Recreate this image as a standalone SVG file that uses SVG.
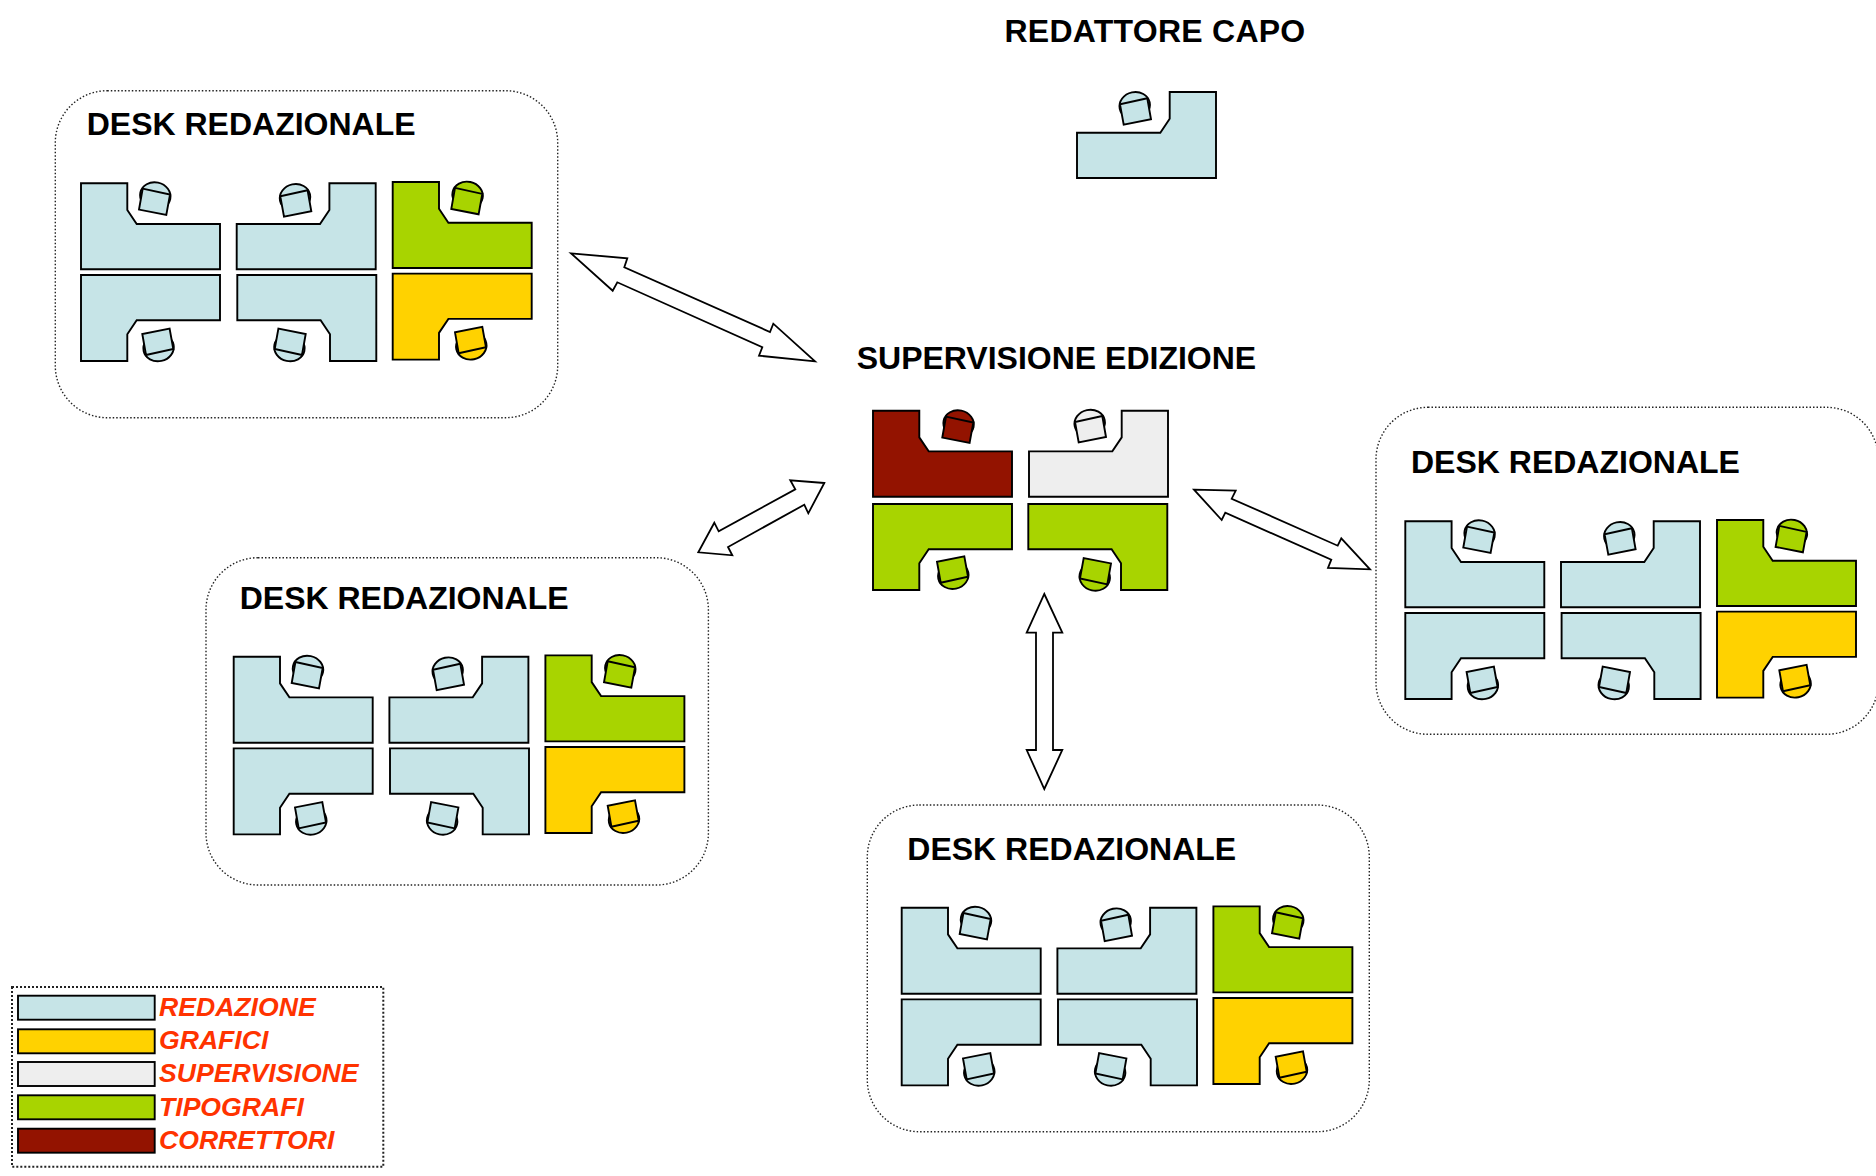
<svg xmlns="http://www.w3.org/2000/svg" xmlns:xlink="http://www.w3.org/1999/xlink" width="1876" height="1176" viewBox="0 0 1876 1176">
<style>
text{font-family:"Liberation Sans",Arial,sans-serif;font-weight:700}
.title{font-size:32px;fill:#000}
.leg{font-size:26.6px;font-style:italic;fill:#ff3300}
.frame{fill:#fff;stroke:#222;stroke-width:1.4;stroke-dasharray:1.5 2}
.d,.c{stroke:#000;stroke-width:1.9;stroke-linejoin:miter}
.blue{fill:#c6e4e7}.yellow{fill:#ffd200}.grey{fill:#eeeeee}.green{fill:#a8d400}.red{fill:#931300}
.arrow{fill:#fff;stroke:#000;stroke-width:1.8;stroke-linejoin:miter}
.sw{stroke:#000;stroke-width:1.9}
</style>
<defs>
<path id="desk" class="d" d="M0 0H46.3V26.7L55.7 40.7H139V86H0Z"/>
<g id="chair" class="c">
<ellipse cx="74.3" cy="12.5" rx="15.3" ry="13.4" transform="rotate(12 74.3 12.5)"/>
<path d="M61.7 5.3L89 11.3L85.3 31.7L58 26.3Z"/>
</g>
<g id="cluster">
<use xlink:href="#desk" href="#desk" class="blue"/>
<use xlink:href="#chair" href="#chair" class="blue"/>
<use xlink:href="#desk" href="#desk" class="blue" transform="translate(294.7 0) scale(-1 1)"/>
<use xlink:href="#chair" href="#chair" class="blue" transform="translate(288.3 1.7) scale(-1 1)"/>
<use xlink:href="#desk" href="#desk" class="blue" transform="translate(0 177.7) scale(1 -1)"/>
<use xlink:href="#chair" href="#chair" class="blue" transform="translate(3.3 177) scale(1 -1)"/>
<use xlink:href="#desk" href="#desk" class="blue" transform="translate(295.3 177.7) scale(-1 -1)"/>
<use xlink:href="#chair" href="#chair" class="blue" transform="translate(282.7 177) scale(-1 -1)"/>
<use xlink:href="#desk" href="#desk" class="green" transform="translate(311.7 -1.3)"/>
<use xlink:href="#chair" href="#chair" class="green" transform="translate(312.3 -.7)"/>
<use xlink:href="#desk" href="#desk" class="yellow" transform="translate(311.7 176.3) scale(1 -1)"/>
<use xlink:href="#chair" href="#chair" class="yellow" transform="translate(316 175.3) scale(1 -1)"/>
</g>
</defs>
<rect width="1876" height="1176" fill="#fff"/>

<g id="desk-redazionale-1">
<rect class="frame" x="55.3" y="90.7" width="502.4" height="327" rx="52" ry="52"/>
<text class="title" x="86.7" y="135">DESK REDAZIONALE</text>
<use xlink:href="#cluster" href="#cluster" transform="translate(81 183.3)"/>
</g>
<g id="desk-redazionale-2">
<rect class="frame" x="206" y="557.7" width="502.4" height="327.3" rx="52" ry="52"/>
<text class="title" x="239.7" y="609">DESK REDAZIONALE</text>
<use xlink:href="#cluster" href="#cluster" transform="translate(233.7 656.7)"/>
</g>
<g id="desk-redazionale-3">
<rect class="frame" x="1376" y="407.3" width="502.4" height="327" rx="52" ry="52"/>
<text class="title" x="1411" y="472.5">DESK REDAZIONALE</text>
<use xlink:href="#cluster" href="#cluster" transform="translate(1405.3 521.3)"/>
</g>
<g id="desk-redazionale-4">
<rect class="frame" x="867.3" y="805" width="502" height="326.7" rx="52" ry="52"/>
<text class="title" x="907.3" y="859.5">DESK REDAZIONALE</text>
<use xlink:href="#cluster" href="#cluster" transform="translate(901.7 907.7)"/>
</g>

<g id="redattore-capo">
<text class="title" x="1004.5" y="41.5" style="letter-spacing:.25px">REDATTORE CAPO</text>
<use xlink:href="#desk" href="#desk" class="blue" transform="translate(1216 92) scale(-1 1)"/>
<use xlink:href="#chair" href="#chair" class="blue" transform="translate(1209 93) scale(-1 1)"/>
</g>

<g id="supervisione-edizione">
<text class="title" x="856.7" y="368.7">SUPERVISIONE EDIZIONE</text>
<use xlink:href="#desk" href="#desk" class="red" transform="translate(873 410.7)"/>
<use xlink:href="#chair" href="#chair" class="red" transform="translate(884.3 411.3)"/>
<use xlink:href="#desk" href="#desk" class="grey" transform="translate(1168 410.7) scale(-1 1)"/>
<use xlink:href="#chair" href="#chair" class="grey" transform="translate(1164 410.7) scale(-1 1)"/>
<use xlink:href="#desk" href="#desk" class="green" transform="translate(873 590) scale(1 -1)"/>
<use xlink:href="#chair" href="#chair" class="green" transform="translate(879 588) scale(1 -1)"/>
<use xlink:href="#desk" href="#desk" class="green" transform="translate(1167.3 590) scale(-1 -1)"/>
<use xlink:href="#chair" href="#chair" class="green" transform="translate(1169 589.7) scale(-1 -1)"/>
</g>

<g id="connectors">
<polygon class="arrow" points="571,253.3 627.3,258.3 624.3,267.3 770,332 773.3,323.7 815,361.3 759,355.7 762.3,347.3 617.3,282.3 612.7,290.7"/>
<polygon class="arrow" points="824.3,483 790.3,480.3 795.3,489.3 718.7,531.3 714.3,522.7 698.3,552.3 732.3,555.3 728,547 804.3,504.7 808.3,513.3"/>
<polygon class="arrow" points="1194,489.7 1235.7,490.7 1231.7,498.7 1337.7,545.7 1341.3,538.3 1370,569.3 1328,568 1331.3,559.7 1225.3,512.7 1221.7,520"/>
<polygon class="arrow" points="1044.3,594 1062.3,632.7 1053,632.7 1053,750 1062.3,750 1044.3,789 1026.7,750 1036,750 1036,632.7 1026.7,632.7"/>
</g>

<g id="legenda">
<rect class="frame" x="12" y="987" width="371.3" height="179.7" style="stroke-width:2;stroke-dasharray:2 2"/>
<rect class="sw blue" x="18" y="995.7" width="136.7" height="24"/>
<text class="leg" x="159" y="1016">REDAZIONE</text>
<rect class="sw yellow" x="18" y="1029.3" width="136.7" height="24"/>
<text class="leg" x="159" y="1049">GRAFICI</text>
<rect class="sw grey" x="18" y="1062" width="136.7" height="24"/>
<text class="leg" x="159" y="1082">SUPERVISIONE</text>
<rect class="sw green" x="18" y="1095.3" width="136.7" height="24"/>
<text class="leg" x="159" y="1115.5">TIPOGRAFI</text>
<rect class="sw red" x="18" y="1128.7" width="136.7" height="24"/>
<text class="leg" x="159" y="1149">CORRETTORI</text>
</g>
</svg>
